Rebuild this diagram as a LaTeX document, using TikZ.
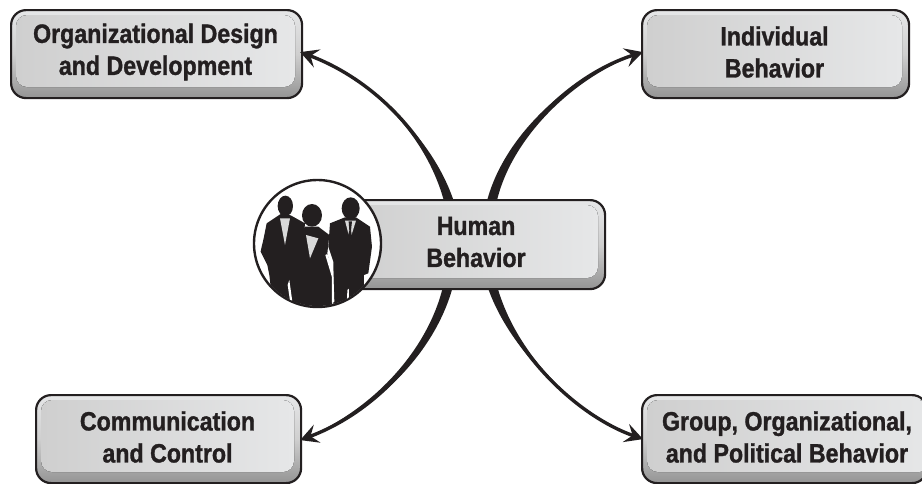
\documentclass[tikz,border=0pt]{standalone}
\usepackage{fontspec}
\setmainfont{Liberation Sans}[BoldFont={Liberation Sans Bold},BoldFeatures={FakeStretch=0.875,FakeBold=1.2}]
\usetikzlibrary{arrows.meta,calc}
\definecolor{ink}{HTML}{231F20}
\definecolor{boxlo}{HTML}{CFCFCF}
\definecolor{boxhi}{HTML}{E6E7E8}
\definecolor{shirt}{HTML}{D9D9D9}
\tikzset{
  x=1pt,y=-1pt,
  boxnode/.style={draw=ink,line width=2.2pt,rounded corners=15pt,top color=boxhi,bottom color=black!42,middle color=boxlo,inner sep=0pt},
  inner/.style={left color=boxlo,right color=boxhi,rounded corners=11pt},
  label/.style={align=center,text=ink,inner sep=0pt,font=\bfseries\fontsize{26.5}{32}\selectfont},
  link/.style={draw=ink,line width=3.4pt,-{Stealth[length=18pt,width=19pt,inset=7pt]}},
}
\newcommand{\gbox}[6]{% name x1 y1 x2 y2 text
  \node[boxnode,minimum width={(#4-#2)*1pt},minimum height={(#5-#3)*1pt},anchor=north west] (#1) at (#2,#3) {};
  \fill[inner] (#2+6,#3+6) rectangle (#4-6,#5-10);
  \node[label] (#1t) at ({(#2+#4)/2},{(#3+#5)/2-1}) {#6};
}
% start point, two control points, end: a stroke that swells towards the start
\newcommand{\swell}[7]{% x0 y0 x1 y1 x2 y2 end
  \fill[ink] (#1-5,#2) .. controls (#3-3.6,#4-1.8) and (#5-1.2,#6-1.4) .. (#7) .. controls (#5+1.2,#6+1.4) and (#3+3.6,#4+1.8) .. (#1+5,#2) -- cycle;
  \draw[link] (#1,#2) .. controls (#3,#4) and (#5,#6) .. (#7);
}
\begin{document}
\begin{tikzpicture}
\useasboundingbox (0,0) rectangle (922,483);
\fill[white] (0,0) rectangle (922,483);
% boxes
\gbox{b1}{10}{9}{301}{97}{Organizational Design\\and Development}
\gbox{b2}{641}{9}{908}{97}{Individual\\Behavior}
\gbox{b3}{35}{394}{300}{482}{Communication\\and Control}
\begin{scope}
\clip (630,385) rectangle (922,483);
\node[boxnode,minimum width=285pt,minimum height=88pt,anchor=north west] (b4) at (641,394) {};
\fill[inner] (647,400) rectangle (930,472);
\end{scope}
\node[label] (b4t) at (787,437) {Group, Organizational,\\and Political Behavior};
% connectors
\coordinate (t1) at ($(b1.east)+(-3,-2)$);
\coordinate (t2) at ($(b2.west)+(2,-2)$);
\coordinate (t3) at ($(b3.east)+(-2,1)$);
\coordinate (t4) at ($(b4.west)+(2,0)$);
\swell{450}{205}{432}{140}{375}{80}{t1}
\swell{491}{205}{505}{140}{570}{75}{t2}
\swell{449}{282}{435}{345}{380}{410}{t3}
\swell{491}{282}{510}{350}{575}{415}{t4}
% hub
\gbox{hub}{340}{199}{604}{288}{}
\node[label] (hubt) at (476,242) {Human\\Behavior};
% portrait
\node[circle,draw=ink,fill=white,line width=2.4pt,minimum size=127pt,inner sep=0pt] (pic) at (317.5,243.5) {};
\begin{scope}
\clip (317.5,243.5) circle (62.5pt);
\begin{scope}[shift={(250,190)},x=0.3333pt,y=-0.3333pt]
 % left man
 \fill[ink] (106,48) ellipse [x radius=23,y radius=31];
 \fill[ink] (92,72) -- (50,100) -- (42,140) .. controls (38,160) and (34,172) .. (32,185) -- (52,225) -- (58,255) -- (62,290) -- (80,400) -- (140,400) -- (165,100) -- (122,76) -- cycle;
 \fill[shirt] (90,85) -- (120,85) -- (105,165) -- cycle;
 % right man
 \fill[ink] (302,55) ellipse [x radius=27,y radius=33];
 \fill[ink] (285,82) -- (240,100) -- (235,170) -- (250,215) -- (250,400) -- (340,400) -- (342,255) -- (355,250) -- (366,170) -- (360,110) -- (318,82) -- cycle;
 \fill[shirt] (285,92) -- (318,92) -- (300,150) -- cycle;
 \fill[ink] (296,94) -- (306,94) -- (303,122) -- (306,140) -- (299,156) -- (293,140) -- (298,122) -- cycle;
 % woman
 \fill[ink] (186,76) ellipse [x radius=30,y radius=34];
 \fill[ink] (165,110) -- (140,150) -- (128,240) -- (122,400) -- (245,400) -- (248,260) -- (232,190) -- (238,135) -- (205,110) -- cycle;
 \fill[shirt] (168,135) -- (205,145) -- (180,205) -- cycle;
 % slivers of white between the figures
 \fill[white] (226,195) -- (232,192) -- (250,245) -- (253,335) -- (246,338) -- (246,262) -- cycle;
 \fill[white] (113,285) -- (118,270) -- (127,335) -- (120,332) -- cycle;
 \fill[white] (292,300) -- (297,296) -- (296,345) -- (291,345) -- cycle;
\end{scope}
\end{scope}
\end{tikzpicture}
\end{document}
